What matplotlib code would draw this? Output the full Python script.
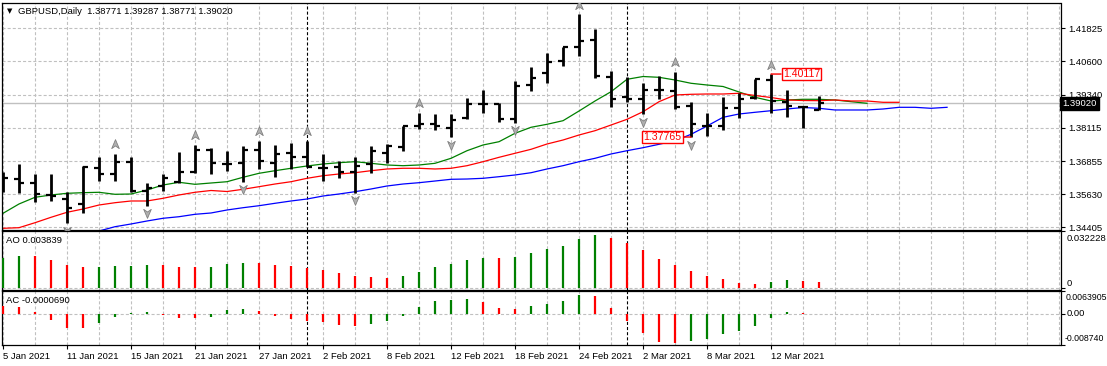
import matplotlib
matplotlib.use("Agg")
import matplotlib.pyplot as plt
import matplotlib.transforms as mtransforms
from matplotlib.path import Path
import numpy as np
import pandas as pd

plt.rcParams['font.family'] = ['Liberation Sans', 'DejaVu Sans']
plt.rcParams['lines.scale_dashes'] = False

# ---------------- data ----------------
dates = pd.bdate_range('2021-01-05', '2021-03-17')

opens = [1.36224, 1.36198, 1.36038, 1.35601, 1.35440, 1.35253, 1.36620, 1.36374, 1.36822, 1.35750,
         1.35937, 1.36097, 1.36471, 1.37281, 1.36747, 1.36807, 1.37281, 1.36807, 1.37158, 1.37031,
         1.36620, 1.36657, 1.36471, 1.36747, 1.37158, 1.37404, 1.38177, 1.38252, 1.38091, 1.38487,
         1.38998, 1.38987, 1.38427, 1.39708, 1.40145, 1.40604, 1.41138, 1.41377, 1.40018, 1.39260,
         1.39185, 1.39521, 1.39484, 1.38924, 1.38177, 1.38188, 1.38838, 1.39233, 1.39895, 1.39062,
         1.38875, 1.38771]
highs = [1.36471, 1.36758, 1.36385, 1.36385, 1.35701, 1.36695, 1.37031, 1.37132, 1.37008, 1.36038,
         1.36385, 1.37195, 1.37468, 1.37367, 1.37255, 1.37442, 1.37617, 1.37468, 1.37531, 1.37628,
         1.37132, 1.36870, 1.37031, 1.37442, 1.37494, 1.38188, 1.38674, 1.38618, 1.38607, 1.39211,
         1.39521, 1.39025, 1.39857, 1.40369, 1.40892, 1.41138, 1.42359, 1.41788, 1.40242, 1.39994,
         1.39778, 1.40044, 1.40205, 1.39062, 1.38651, 1.39249, 1.39421, 1.39941, 1.40117, 1.39521,
         1.38898, 1.39287]
lows = [1.35696, 1.35667, 1.35350, 1.35377, 1.34544, 1.34940, 1.36135, 1.36135, 1.35724, 1.35201,
        1.35761, 1.36060, 1.36433, 1.36374, 1.36508, 1.36097, 1.36577, 1.36275, 1.36577, 1.36657,
        1.36135, 1.36224, 1.35686, 1.36433, 1.36807, 1.37255, 1.38054, 1.38028, 1.37755, 1.38427,
        1.38674, 1.38315, 1.38300, 1.39495, 1.39794, 1.40429, 1.40802, 1.39981, 1.38875, 1.39062,
        1.38625, 1.39185, 1.38812, 1.37765, 1.37822, 1.38028, 1.38465, 1.39185, 1.38651, 1.38524,
        1.38091, 1.38771]
closes = [1.36224, 1.36060, 1.35627, 1.35552, 1.35104, 1.36657, 1.36374, 1.36822, 1.35750, 1.35851,
          1.36247, 1.36471, 1.37281, 1.36807, 1.36747, 1.37281, 1.36870, 1.37132, 1.37008, 1.36657,
          1.36620, 1.36471, 1.36695, 1.37244, 1.37430, 1.38177, 1.38263, 1.38188, 1.38401, 1.38987,
          1.38998, 1.38427, 1.39682, 1.39981, 1.40556, 1.41116, 1.41362, 1.40044, 1.39185, 1.39185,
          1.39521, 1.39521, 1.38898, 1.38252, 1.38177, 1.38838, 1.39185, 1.39921, 1.39111, 1.38924,
          1.38875, 1.39020]

# Alligator lines (already shifted forward; index = bar position)
lips = [1.34917, 1.35265, 1.35515, 1.35601, 1.35664, 1.35687, 1.35702, 1.35627, 1.35638, 1.35787,
        1.35974, 1.36075, 1.36000, 1.36049, 1.36097, 1.36262, 1.36411, 1.36508, 1.36598, 1.36684,
        1.36758, 1.36807, 1.36844, 1.36784, 1.36721, 1.36695, 1.36721, 1.36784, 1.36971, 1.37255,
        1.37468, 1.37591, 1.37905, 1.38129, 1.38241, 1.38375, 1.38737, 1.39111, 1.39458, 1.39921,
        1.40025, 1.39995, 1.39895, 1.39772, 1.39708, 1.39652, 1.39447, 1.39249, 1.39111, 1.39148,
        1.39174, 1.39174, 1.39148, 1.39085, 1.39025]
teeth = [1.34357, 1.34380, 1.34566, 1.34768, 1.34955, 1.35078, 1.35227, 1.35313, 1.35377, 1.35377,
         1.35477, 1.35601, 1.35702, 1.35769, 1.35731, 1.35814, 1.35911, 1.36011, 1.36097, 1.36224,
         1.36321, 1.36385, 1.36433, 1.36508, 1.36572, 1.36598, 1.36598, 1.36572, 1.36598, 1.36695,
         1.36844, 1.37008, 1.37158, 1.37307, 1.37505, 1.37654, 1.37841, 1.38002, 1.38214, 1.38427,
         1.38711, 1.39085, 1.39335, 1.39361, 1.39372, 1.39372, 1.39398, 1.39316, 1.39241, 1.39148,
         1.39129, 1.39122, 1.39148, 1.39111, 1.39111, 1.39062, 1.39062]
jaw_start = 6
jaw = [1.34256, 1.34417, 1.34518, 1.34630, 1.34731, 1.34790, 1.34880, 1.34929, 1.35041, 1.35126,
       1.35201, 1.35291, 1.35377, 1.35451, 1.35563, 1.35638, 1.35724, 1.35825, 1.35937, 1.36011,
       1.36060, 1.36123, 1.36187, 1.36198, 1.36224, 1.36284, 1.36348, 1.36433, 1.36572, 1.36695,
       1.36844, 1.36971, 1.37132, 1.37255, 1.37367, 1.37494, 1.37628, 1.37867, 1.38177, 1.38502,
       1.38625, 1.38689, 1.38748, 1.38812, 1.38868, 1.38838, 1.38775, 1.38775, 1.38775, 1.38812,
       1.38875, 1.38875, 1.38838, 1.38875]

ao = [0.01714, 0.01827, 0.01820, 0.01601, 0.01318, 0.01205, 0.01210, 0.01262, 0.01265, 0.01318,
      0.01310, 0.01205, 0.01200, 0.01205, 0.01375, 0.01431, 0.01425, 0.01318, 0.01262, 0.01149,
      0.01036, 0.00866, 0.00697, 0.00640, 0.00584, 0.00697, 0.00923, 0.01205, 0.01375, 0.01601,
      0.01714, 0.01705, 0.01770, 0.01996, 0.02222, 0.02391, 0.02787, 0.03013, 0.02843, 0.02561,
      0.02165, 0.01657, 0.01318, 0.00979, 0.00697, 0.00527, 0.00301, 0.00245, 0.00358, 0.00471,
      0.00414, 0.003839]
ao_first_up = True
ac = [0.00215, 0.00208, 0.00066, -0.00161, -0.00387, -0.00392, -0.00246, -0.00076, 0.00028, 0.00066,
      -0.00028, -0.00104, -0.00110, -0.00076, 0.00123, 0.00151, 0.00094, -0.00047, -0.00132, -0.00189,
      -0.00217, -0.00302, -0.00331, -0.00274, -0.00189, -0.00047, 0.00208, 0.00378, 0.00406, 0.00434,
      0.00349, 0.00179, 0.00151, 0.00236, 0.00293, 0.00378, 0.00548, 0.00519, 0.00179, -0.00189,
      -0.00529, -0.00784, -0.00812, -0.00756, -0.00699, -0.00557, -0.00472, -0.00331, -0.00104, 0.00066,
      0.00028, -0.0000690]
ac_first_up = False

fractal_up = [7, 12, 16, 19, 26, 36, 42, 48]
fractal_down = [4, 9, 15, 22, 28, 32, 40, 43]
label_high_bar = 48
label_low_bar = 43

price_ticks = [1.41825, 1.40600, 1.39340, 1.38115, 1.36855, 1.35630, 1.34405]
price_range = (1.34305, 1.42781)
ao_range = (-0.00096, 0.032228)
ac_range = (-0.008740, 0.0063905)
symbol = "GBPUSD,Daily"

# ---------------- layout ----------------
W, H = 1107, 366
fig = plt.figure(figsize=(W / 100, H / 100), dpi=100)
fig.patch.set_facecolor('white')

def px_rect(x0, y0, x1, y1):
    return [x0 / W, 1 - y1 / H, (x1 - x0) / W, (y1 - y0) / H]

ax = fig.add_axes(px_rect(1.7, 2.7, 1060.5, 229.7))
ax_ao = fig.add_axes(px_rect(1.7, 231.3, 1060.5, 290.0))
ax_ac = fig.add_axes(px_rect(1.7, 291.3, 1060.5, 344.7))

n = len(opens)
idx = np.arange(n)
xlim = (-0.081, 66.09)
GREEN = '#008000'
RED = '#ff0000'
BLUE = '#0000ff'
GRID = '#c0c0c0'
grid_dash = (0, (2.2, 1.5))
sep_dash = (0, (2.2, 1.5))
FS = 6.8

grid_x = np.arange(0, 67, 2)
month_starts = [i for i in range(1, n) if dates[i].month != dates[i - 1].month]

for a in (ax, ax_ao, ax_ac):
    a.set_xlim(*xlim)
    a.set_facecolor('white')
    for s in a.spines.values():
        s.set_color('black')
        s.set_linewidth(0.9)
    a.vlines(grid_x, 0, 1, transform=a.get_xaxis_transform(), colors=GRID,
             linestyles=grid_dash, linewidth=0.8, zorder=0)
    a.vlines(month_starts, 0, 1, transform=a.get_xaxis_transform(), colors='black',
             linestyles=sep_dash, linewidth=0.8, zorder=1)
    a.tick_params(axis='x', which='both', bottom=False, labelbottom=False)

# ---------------- main panel ----------------
ax.set_ylim(*price_range)
ax.hlines(price_ticks, 0, 1, transform=ax.get_yaxis_transform(), colors=GRID,
          linestyles=grid_dash, linewidth=0.8, zorder=0)
ax.axhline(closes[-1], color=GRID, linewidth=1.0, zorder=0.5)

ax.plot(np.arange(len(lips)), lips, color=GREEN, linewidth=0.9, zorder=2)
ax.plot(np.arange(len(teeth)), teeth, color=RED, linewidth=0.9, zorder=2)
ax.plot(np.arange(jaw_start, jaw_start + len(jaw)), jaw, color=BLUE, linewidth=0.9, zorder=2)

tick_len = 0.32
ax.vlines(idx, lows, highs, color='black', linewidth=2.0, zorder=3, capstyle='butt')
ax.hlines(opens, idx - tick_len, idx, color='black', linewidth=1.6, zorder=3)
ax.hlines(closes, idx, idx + tick_len, color='black', linewidth=1.6, zorder=3)

up_path = Path([(0, 1), (0.78, -0.85), (0, -0.3), (-0.78, -0.85), (0, 1)],
               [Path.MOVETO, Path.LINETO, Path.LINETO, Path.LINETO, Path.CLOSEPOLY])
down_path = Path([(0, -1), (0.78, 0.85), (0, 0.3), (-0.78, 0.85), (0, -1)],
                 [Path.MOVETO, Path.LINETO, Path.LINETO, Path.LINETO, Path.CLOSEPOLY])
up_off = ax.transData + mtransforms.ScaledTranslation(0, 9.5 / 100, fig.dpi_scale_trans)
dn_off = ax.transData + mtransforms.ScaledTranslation(0, -7.5 / 100, fig.dpi_scale_trans)
ax.plot(fractal_up, [highs[i] for i in fractal_up], linestyle='none', marker=up_path,
        markersize=7, markerfacecolor='#b0b0b0', markeredgecolor='#808080',
        markeredgewidth=0.6, transform=up_off, zorder=4)
ax.plot(fractal_down, [lows[i] for i in fractal_down], linestyle='none', marker=down_path,
        markersize=7, markerfacecolor='#b0b0b0', markeredgecolor='#808080',
        markeredgewidth=0.6, transform=dn_off, zorder=4)

box = dict(boxstyle='square,pad=0.12', fc='white', ec=RED, lw=1.0)
arrow = dict(arrowstyle='-', color=RED, lw=1.0, shrinkA=0, shrinkB=0)
ax.annotate(f"{highs[label_high_bar]:.5f}", xy=(label_high_bar, highs[label_high_bar]),
            xytext=(8.5, 0), textcoords='offset points', ha='left', va='center',
            color=RED, fontsize=7.6, bbox=box, arrowprops=arrow, zorder=6)
ax.annotate(f"{lows[label_low_bar]:.5f}", xy=(label_low_bar, lows[label_low_bar]),
            xytext=(-7, 0), textcoords='offset points', ha='right', va='center',
            color=RED, fontsize=7.6, bbox=box, arrowprops=arrow, zorder=6)

ax.yaxis.tick_right()
ax.set_yticks(price_ticks)
ax.set_yticklabels([f"{p:.5f}" for p in price_ticks])
ax.tick_params(axis='y', which='both', direction='out', length=3, width=0.8,
               pad=2.5, labelsize=FS, colors='black')

ax.text(1.0015, closes[-1], f"{closes[-1]:.5f}", transform=ax.get_yaxis_transform(),
        ha='left', va='center', color='white', fontsize=FS, zorder=10, clip_on=False,
        bbox=dict(boxstyle='square,pad=0.22', fc='black', ec='black'))

fig.text(7 / W, 1 - 11 / H, "▼", fontsize=5, ha='left', va='center',
         family='DejaVu Sans', color='black')
fig.text(18 / W, 1 - 11 / H,
         f"{symbol}  {opens[-1]:.5f} {highs[-1]:.5f} {lows[-1]:.5f} {closes[-1]:.5f}",
         fontsize=FS, ha='left', va='center', color='black')

# ---------------- AO ----------------
def bar_colors(vals, first_up):
    cols = [GREEN if first_up else RED]
    for i in range(1, len(vals)):
        cols.append(GREEN if vals[i] > vals[i - 1] else RED)
    return cols

ax_ao.set_ylim(*ao_range)
ax_ao.axhline(0, color=GRID, linestyle=grid_dash, linewidth=0.8, zorder=0)
ax_ao.vlines(idx, 0, ao, colors=bar_colors(ao, ao_first_up), linewidth=1.6, zorder=3)
ax_ao.yaxis.tick_right()
ax_ao.set_yticks([0, ao_range[1]])
ax_ao.set_yticklabels([])
ax_ao.tick_params(axis='y', direction='out', length=3, width=0.8)
ax_ao.text(0.0045, 0.84, f"AO {ao[-1]:.6f}", transform=ax_ao.transAxes,
           fontsize=FS, ha='left', va='center', color='black')
ax_ao.text(1.0062, 0.95, f"{ao_range[1]:.6f}", transform=ax_ao.transAxes,
           fontsize=FS, ha='left', va='top', clip_on=False)
ax_ao.text(1.0062, 0, "0", transform=ax_ao.get_yaxis_transform(),
           fontsize=FS, ha='left', va='bottom', clip_on=False)

# ---------------- AC ----------------
ax_ac.set_ylim(*ac_range)
ax_ac.axhline(0, color=GRID, linestyle=grid_dash, linewidth=0.8, zorder=0)
ax_ac.vlines(idx, 0, ac, colors=bar_colors(ac, ac_first_up), linewidth=1.6, zorder=3)
ax_ac.yaxis.tick_right()
ax_ac.set_yticks([ac_range[0], 0, ac_range[1]])
ax_ac.set_yticklabels([])
ax_ac.tick_params(axis='y', direction='out', length=3, width=0.8)
ax_ac.text(0.0045, 0.82, f"AC {ac[-1]:.7f}", transform=ax_ac.transAxes,
           fontsize=FS, ha='left', va='center', color='black')
ax_ac.text(1.0050, 0.97, f"{ac_range[1]:.7f}", transform=ax_ac.transAxes,
           fontsize=6.3, ha='left', va='top', clip_on=False)
ax_ac.text(1.0062, 0, "0.00", transform=ax_ac.get_yaxis_transform(),
           fontsize=FS, ha='left', va='center', clip_on=False)
ax_ac.text(1.0040, 0.03, f"{ac_range[0]:.6f}", transform=ax_ac.transAxes,
           fontsize=6.3, ha='left', va='bottom', clip_on=False)

date_ticks = list(range(0, n, 4))
ax_ac.set_xticks(date_ticks)
ax_ac.set_xticklabels([f"{dates[i].day} {dates[i].strftime('%b %Y')}" for i in date_ticks],
                      ha='left')
ax_ac.tick_params(axis='x', bottom=True, labelbottom=True, direction='out', length=3,
                  width=0.8, pad=2, labelsize=FS)

fig.savefig("out.png", dpi=100, facecolor='white')
